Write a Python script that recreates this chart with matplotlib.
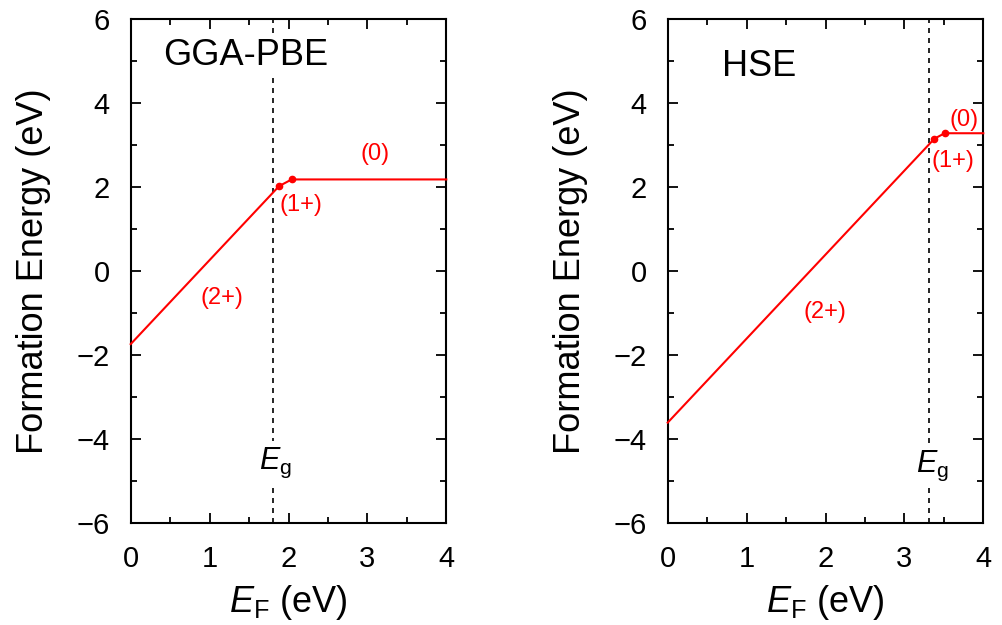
import matplotlib
matplotlib.use("Agg")
import matplotlib.pyplot as plt
from matplotlib.ticker import MultipleLocator

plt.rcParams['font.family'] = ['Liberation Sans', 'DejaVu Sans']
plt.rcParams['mathtext.fontset'] = 'custom'
plt.rcParams['mathtext.rm'] = 'Liberation Sans'
plt.rcParams['mathtext.it'] = 'Liberation Sans:italic'

# ---- data ----
pbe_ef = [0.0, 1.88, 2.04, 4.0]
pbe_e = [-1.74, 2.02, 2.18, 2.18]
pbe_gap = 1.80
hse_ef = [0.0, 3.38, 3.51, 4.0]
hse_e = [-3.61, 3.15, 3.28, 3.28]
hse_gap = 3.31

pbe_labels = ["(2+)", "(1+)", "(0)"]
pbe_label_x = [1.16, 2.16, 3.10]
pbe_label_y = [-0.64, 1.56, 2.78]
hse_labels = ["(2+)", "(1+)", "(0)"]
hse_label_x = [1.99, 3.62, 3.76]
hse_label_y = [-0.98, 2.63, 3.59]

xticks = [0, 1, 2, 3, 4]
yticks = [-6, -4, -2, 0, 2, 4, 6]

W, H = 1002, 625
fig = plt.figure(figsize=(W / 100, H / 100), dpi=100)

panels = [
    dict(rect=[130.7 / W, 1 - 523 / H, 315.6 / W, 504 / H], ef=pbe_ef, e=pbe_e, gap=pbe_gap,
         labels=pbe_labels, lx=pbe_label_x, ly=pbe_label_y, title="GGA-PBE",
         tx=0.102, ty=5.13, egy=-4.57),
    dict(rect=[667.7 / W, 1 - 523 / H, 315.6 / W, 504 / H], ef=hse_ef, e=hse_e, gap=hse_gap,
         labels=hse_labels, lx=hse_label_x, ly=hse_label_y, title="HSE",
         tx=0.172, ty=4.88, egy=-4.65),
]

red = '#ff0000'
for p in panels:
    ax = fig.add_axes(p['rect'])
    ax.set_xlim(0, 4)
    ax.set_ylim(-6, 6)
    # dashed band-gap line
    ax.axvline(p['gap'], color='black', lw=1.2, linestyle=(0, (3, 3)), zorder=1)
    # formation energy line
    ax.plot(p['ef'], p['e'], color=red, lw=1.5, zorder=3, clip_on=False)
    ax.plot(p['ef'][1:3], p['e'][1:3], 'o', color=red, ms=4.5, zorder=4)
    for s, x, y in zip(p['labels'], p['lx'], p['ly']):
        ax.text(x, y, s, color=red, fontsize=17, ha='center', va='center', zorder=5)
    ax.text(p['tx'], p['ty'], p['title'], transform=ax.get_yaxis_transform(),
            fontsize=26, ha='left', va='center', zorder=6,
            bbox=dict(boxstyle='square,pad=0.05', fc='white', ec='none'))
    ax.text(p['gap'] + 0.04, p['egy'], r'$E_\mathrm{g}$', fontsize=22, ha='center', va='center',
            zorder=6, bbox=dict(boxstyle='square,pad=0.15', fc='white', ec='none'))

    ax.set_xticks(xticks)
    ax.set_yticks(yticks)
    ax.set_xticklabels([str(t) for t in xticks])
    ax.set_yticklabels([str(t).replace('-', '\u2212') for t in yticks])
    ax.xaxis.set_minor_locator(MultipleLocator(0.5))
    ax.yaxis.set_minor_locator(MultipleLocator(1))
    ax.tick_params(which='both', direction='in', top=True, right=True, width=1.3, labelsize=21)
    ax.tick_params(which='major', length=7.5)
    ax.tick_params(which='minor', length=4)
    ax.tick_params(axis='x', pad=16)
    ax.tick_params(axis='y', pad=15)
    for sp in ax.spines.values():
        sp.set_linewidth(1.5)

    ax.text(0.5, -0.158, r'$E_\mathrm{F}$ (eV)', transform=ax.transAxes, fontsize=26,
            ha='center', va='center')
    ax.text(-0.308, 0.5, 'Formation Energy (eV)', transform=ax.transAxes, fontsize=26,
            ha='center', va='center', rotation=90)

fig.savefig('out.png', dpi=100)
